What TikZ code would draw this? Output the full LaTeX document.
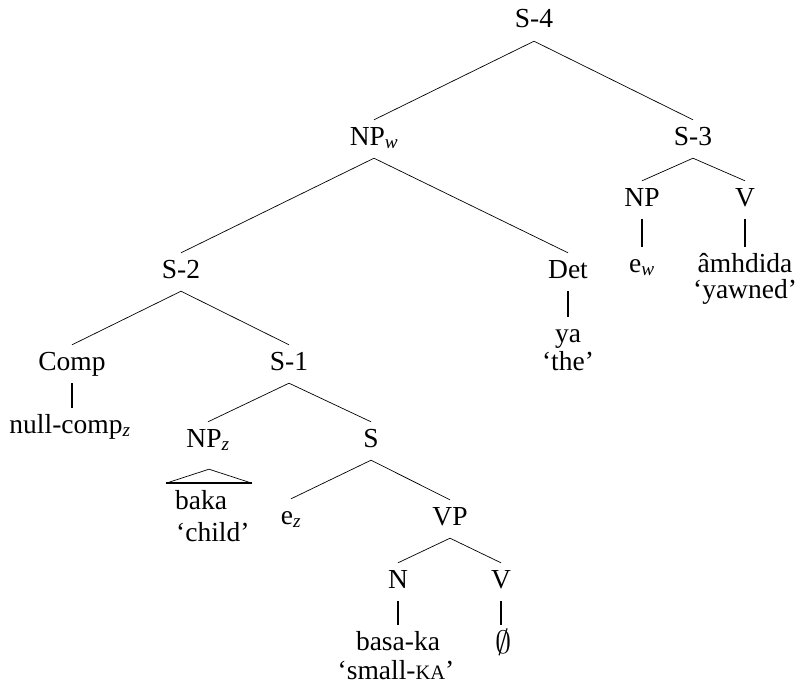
\documentclass[tikz,border=0pt]{standalone}
\usepackage{fontspec}
\usepackage{graphicx}
\setmainfont{Liberation Serif}
\usetikzlibrary{calc}
\newcommand\sbx[1]{\textsubscript{\itshape #1}}
\newcommand\kasc{{\fontsize{20.5}{22}\selectfont KA}}
\begin{document}
\begin{tikzpicture}[x=1pt,y=-1pt,
  lab/.style={anchor=base,inner xsep=0pt,inner ysep=6pt,text height=19pt,text depth=7pt,font=\fontsize{27.5}{30}\selectfont},
  gloss/.style={anchor=base,inner sep=0pt,font=\fontsize{27.5}{30}\selectfont},
  branch/.style={line width=0.7pt},
  stem/.style={line width=1.6pt}]
\useasboundingbox[fill=white] (0,0) rectangle (799,690);
% labels
\node[lab] (S4) at (534,28) {S-4};
\node[lab] (NPw) at (374,145) {NP\sbx{w}};
\node[lab] (S3) at (693,145) {S-3};
\node[lab] (S2) at (181,278) {S-2};
\node[lab] (Det) at (568,278) {Det};
\node[lab] (NPt) at (642,206) {NP};
\node[lab] (Vt) at (745,206) {V};
\node[lab] (ew) at (642,272) {e\sbx{w}};
\node[lab] (amh) at (745,272) {âmhdida};
\node[gloss] (yawned) at (745,298) {‘yawned’};
\node[lab] (Comp) at (72,370) {Comp};
\node[lab] (S1) at (289,370) {S-1};
\node[lab] (ya) at (568,342) {ya};
\node[gloss] (the) at (568,370) {‘the’};
\node[lab] (nullc) at (70,433) {null-comp\sbx{z}};
\node[lab] (NPz) at (208,447) {NP\sbx{z}};
\node[lab] (S) at (371,447) {S};
\node[gloss,anchor=base west] (baka) at (175,509) {baka};
\node[gloss,anchor=base west] (child) at (176,541) {‘child’};
\node[lab] (ez) at (291,524) {e\sbx{z}};
\node[lab] (VP) at (450,525) {VP};
\node[lab] (N) at (398,588) {N};
\node[lab] (V) at (501,588) {V};
\node[lab] (basaka) at (398,650) {basa-ka};
\node[gloss] (smallka) at (396,679) {‘small-\kasc’};
\node[gloss] (empty) at (504,653) {\scalebox{1.3}{$\emptyset$}};
% branches
\draw[branch] (NPw.north) -- (S4.south) -- (S3.north);
\draw[branch] (S2.north) -- (NPw.south) -- (Det.north);
\draw[branch] (NPt.north) -- (S3.south) -- (Vt.north);
\draw[branch] (Comp.north) -- (S2.south) -- (S1.north);
\draw[branch] (NPz.north) -- (S1.south) -- (S.north);
\draw[branch] (ez.north) -- (S.south) -- (VP.north);
\draw[branch] (N.north) -- (VP.south) -- (V.north);
% stems
\draw[stem] (NPt.south) -- (NPt.south |- ew.north);
\draw[stem] (Vt.south) -- (Vt.south |- amh.north);
\draw[stem] (Det.south) -- (Det.south |- ya.north);
\draw[stem] (Comp.south) -- (Comp.south |- nullc.north);
\draw[stem] (N.south) -- (N.south |- basaka.north);
\draw[stem] (V.south) -- (V.south |- basaka.north);
% triangle
\coordinate (tapex) at ($(NPz.south)+(1,9)$);
\coordinate (tl) at ($(NPz.south)+(-42,23)$);
\coordinate (tr) at ($(NPz.south)+(44,23)$);
\draw[branch] (tl) -- (tapex) -- (tr);
\draw[stem] (tl) -- (tr);
\end{tikzpicture}
\end{document}
